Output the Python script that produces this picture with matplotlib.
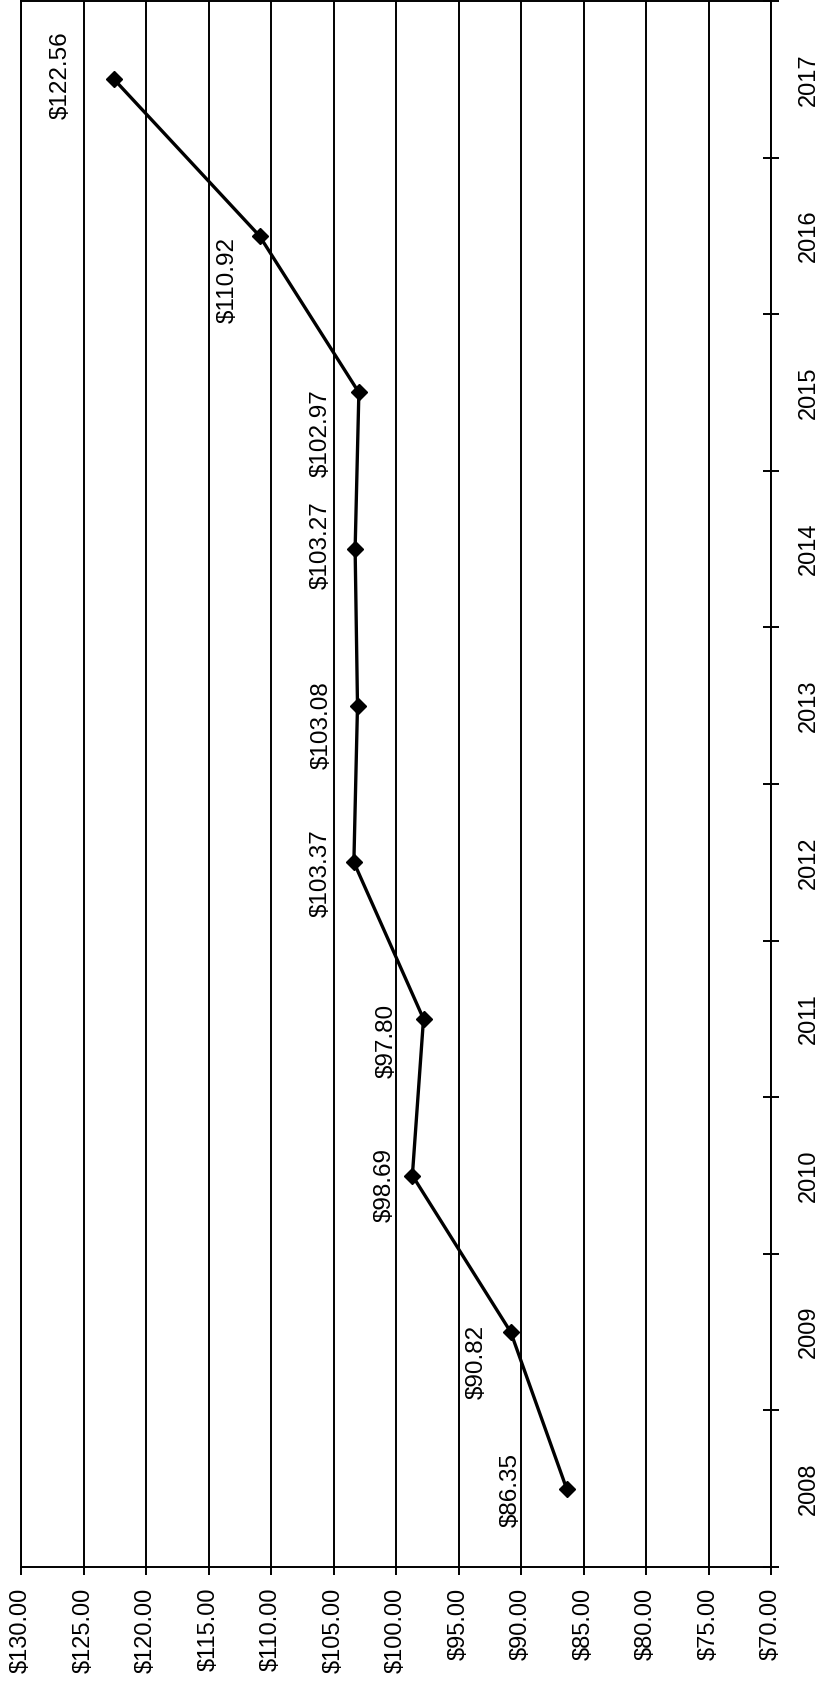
import matplotlib
matplotlib.use("Agg")
import matplotlib.pyplot as plt
import numpy as np

plt.rcParams['font.family'] = ['Liberation Sans', 'DejaVu Sans']

# Annual values
years = ["2008", "2009", "2010", "2011", "2012", "2013", "2014", "2015", "2016", "2017"]
prices = [86.35, 90.82, 98.69, 97.80, 103.37, 103.08, 103.27, 102.97, 110.92, 122.56]

# Value axis ticks
value_ticks = list(range(70, 131, 5))

# Label placement (pixel offsets from each point, x right / y up)
label_offsets = [(-56, -1), (-34, -30), (-28, -9), (-37, -22), (-33, -11),
                 (-36, -19), (-34, 4), (-38, -41), (-32, -44), (-53, 4)]

W, H = 827, 1684
fig = plt.figure(figsize=(W / 100, H / 100), dpi=100)
ax = fig.add_axes([21 / W, 1 - 1567 / H, (771 - 21) / W, (1567 - 1) / H])

pos = np.arange(len(years))

ax.set_xlim(130, 70)
ax.set_ylim(-0.5, len(years) - 0.5)

# vertical grid at each value tick
for v in value_ticks:
    ax.axvline(v, color="black", lw=1.4, zorder=1)

ax.plot(prices, pos, color="black", lw=2.4, marker="D", ms=8,
        markerfacecolor="black", markeredgecolor="black", zorder=3)

for p, v, (dx, dy) in zip(pos, prices, label_offsets):
    ax.annotate(f"${v:.2f}", xy=(v, p), xytext=(dx, dy), textcoords="offset pixels",
                rotation=90, ha="center", va="center", fontsize=17.5, color="black")

# value axis along the bottom, labels rotated
ax.set_xticks(value_ticks)
ax.set_xticklabels([f"${v:.2f}" for v in value_ticks], rotation=90, fontsize=17)
ax.tick_params(axis="x", direction="out", length=6, width=1.4, pad=9)

# year axis on the right, ticks between categories
ax.yaxis.tick_right()
ax.set_yticks(np.arange(-0.5, len(years), 1.0))
ax.set_yticklabels([])
ax.set_yticks(pos, minor=True)
ax.set_yticklabels(years, minor=True, rotation=90, va="center", fontsize=17)
ax.tick_params(axis="y", which="major", direction="inout", length=12, width=1.4)
ax.tick_params(axis="y", which="minor", length=0, pad=19.5)

for s in ax.spines.values():
    s.set_linewidth(1.4)
    s.set_color("black")

fig.savefig("out.png", dpi=100, facecolor="white")
